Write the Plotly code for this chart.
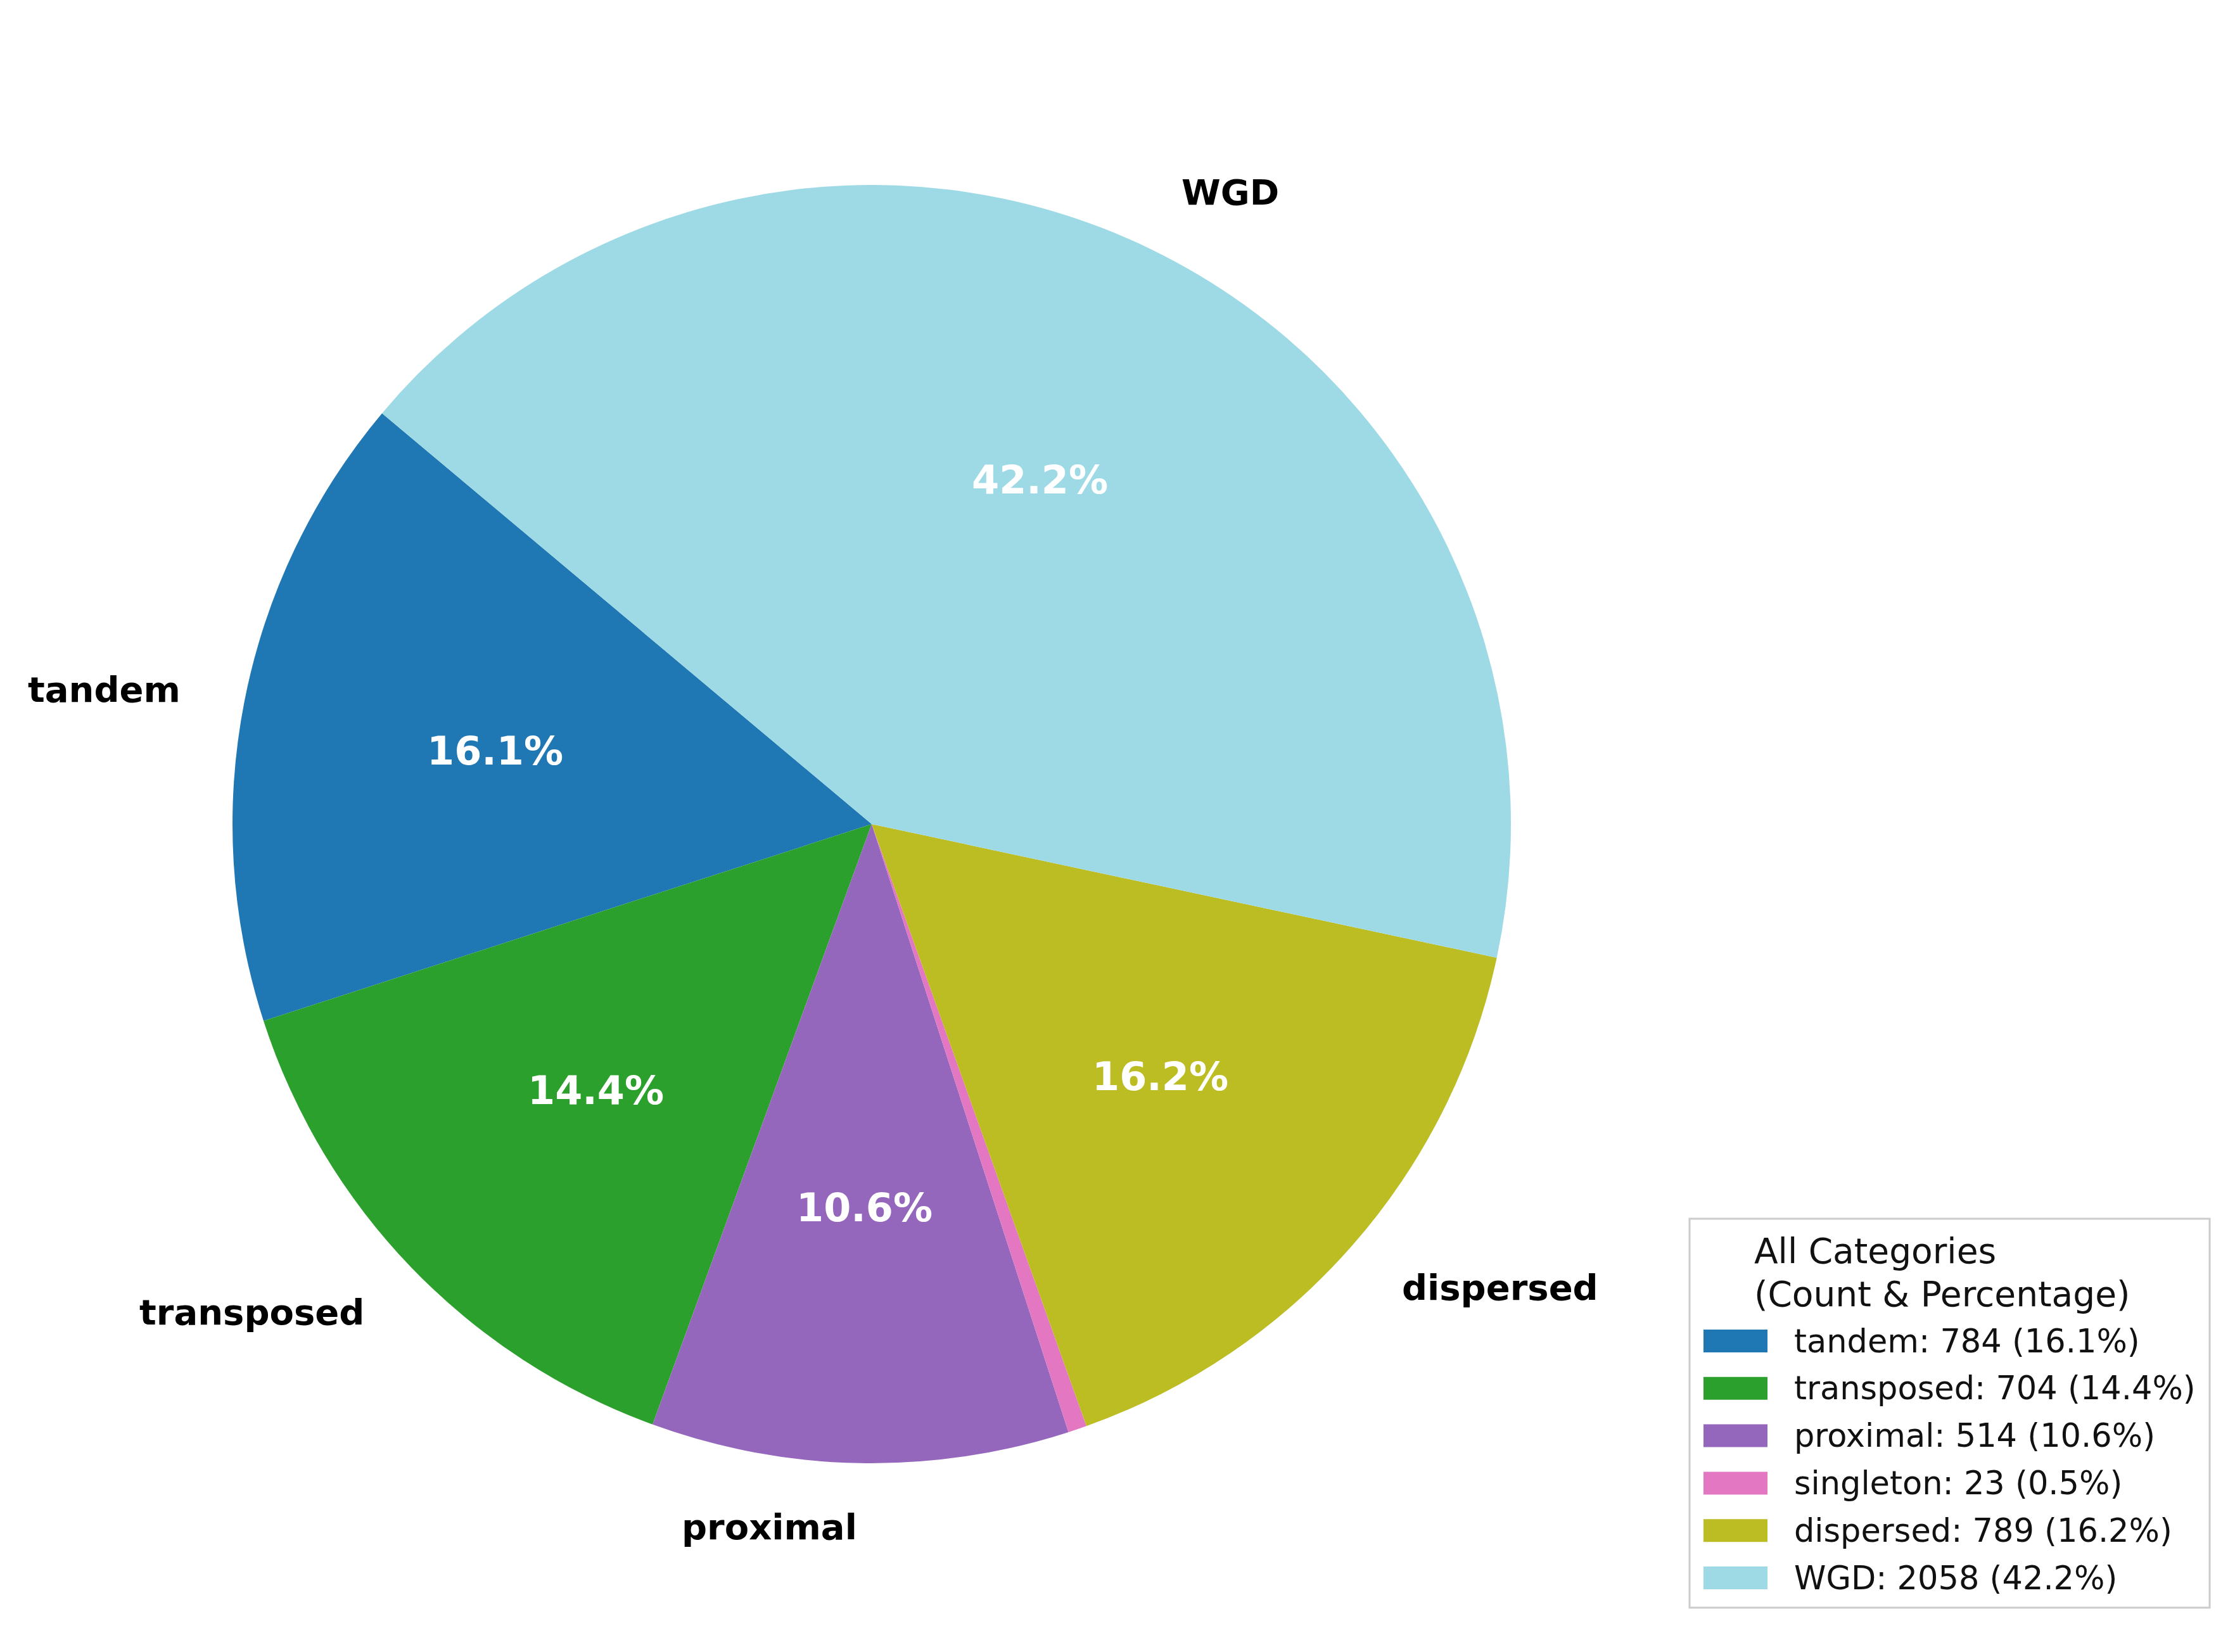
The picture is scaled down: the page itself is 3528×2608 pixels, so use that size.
import math
import plotly.graph_objects as go

# ---------------- data ----------------
categories = ["tandem", "transposed", "proximal", "singleton", "dispersed", "WGD"]
counts = [784, 704, 514, 23, 789, 2058]
colors = ["#1f77b4", "#2ca02c", "#9467bd", "#e377c2", "#bcbd22", "#9edae5"]
legend_title_lines = ["All Categories", "(Count & Percentage)"]

# ---------------- layout constants ----------------
W, H = 3528, 2608
START = 140.0                 # start angle of first slice (deg, ccw from 3 o'clock)
CX, CY, R = 1376, 1301, 1009  # pie centre / radius in px
FONT = "DejaVu Sans"
MIN_LABEL_PCT = 1.0           # slices smaller than this get no labels

total = sum(counts)
pcts = [100.0 * c / total for c in counts]


def px_x(x):
    return x / W


def px_y(y):
    return 1 - y / H


dom_x = [px_x(CX - R), px_x(CX + R)]
dom_y = [px_y(CY + R), px_y(CY - R)]

# plotly rotation (clockwise from 12 o'clock) of boundary between slice 0 and 1
rotation = 90 - (START + 360.0 * counts[0] / total)

fig = go.Figure()
fig.add_trace(go.Pie(
    labels=categories,
    values=counts,
    sort=False,
    direction="counterclockwise",
    rotation=rotation,
    marker=dict(colors=colors, line=dict(width=0)),
    textinfo="none",
    showlegend=False,
    domain=dict(x=dom_x, y=dom_y),
    hovertemplate="%{label}: %{value} (%{percent})<extra></extra>",
))

annotations = []
shapes = []

# slice labels and percentages
cum = 0
for cat, cnt, pct in zip(categories, counts, pcts):
    a0 = START + 360.0 * cum / total
    a1 = START + 360.0 * (cum + cnt) / total
    mid = math.radians((a0 + a1) / 2)
    cum += cnt
    if pct < MIN_LABEL_PCT:
        continue
    cx, cy = math.cos(mid), math.sin(mid)
    # outside label at 1.1 R
    lx = CX + 1.1 * R * cx
    ly = CY - 1.1 * R * cy
    annotations.append(dict(
        x=px_x(lx), y=px_y(ly), xref="paper", yref="paper",
        text=cat, showarrow=False,
        xanchor="left" if cx >= 0 else "right", yanchor="middle",
        font=dict(family=FONT, size=56, color="black", weight="bold"),
    ))
    # percentage at 0.6 R
    tx = CX + 0.6 * R * cx
    ty = CY - 0.6 * R * cy
    annotations.append(dict(
        x=px_x(tx), y=px_y(ty), xref="paper", yref="paper",
        text=f"{pct:.1f}%", showarrow=False,
        xanchor="center", yanchor="middle",
        font=dict(family=FONT, size=62, color="white", weight="bold"),
    ))

# ---------------- legend ----------------
LX0, LX1, LY0, LY1 = 2667, 3488, 1924, 2538
shapes.append(dict(
    type="rect", xref="paper", yref="paper",
    x0=px_x(LX0), x1=px_x(LX1), y0=px_y(LY1), y1=px_y(LY0),
    line=dict(color="#cccccc", width=3), fillcolor="white", layer="below",
))
title_y = [1975, 2043]
for t, ty in zip(legend_title_lines, title_y):
    annotations.append(dict(
        x=px_x(2767), y=px_y(ty), xref="paper", yref="paper",
        text=t, showarrow=False, xanchor="left", yanchor="middle",
        font=dict(family=FONT, size=55, color="#111111"),
    ))

ROW0, ROW_STEP = 2117, 74.8
for i, (cat, cnt, pct, col) in enumerate(zip(categories, counts, pcts, colors)):
    ry = ROW0 + i * ROW_STEP
    shapes.append(dict(
        type="rect", xref="paper", yref="paper",
        x0=px_x(2689), x1=px_x(2790), y0=px_y(ry + 18), y1=px_y(ry - 18),
        line=dict(width=0), fillcolor=col,
    ))
    annotations.append(dict(
        x=px_x(2830), y=px_y(ry), xref="paper", yref="paper",
        text=f"{cat}: {cnt} ({pct:.1f}%)", showarrow=False,
        xanchor="left", yanchor="middle",
        font=dict(family=FONT, size=51, color="#111111"),
    ))

fig.update_layout(
    width=W, height=H,
    margin=dict(l=0, r=0, t=0, b=0),
    paper_bgcolor="white", plot_bgcolor="white",
    showlegend=False,
    annotations=annotations,
    shapes=shapes,
)

fig.write_html("out.html")
